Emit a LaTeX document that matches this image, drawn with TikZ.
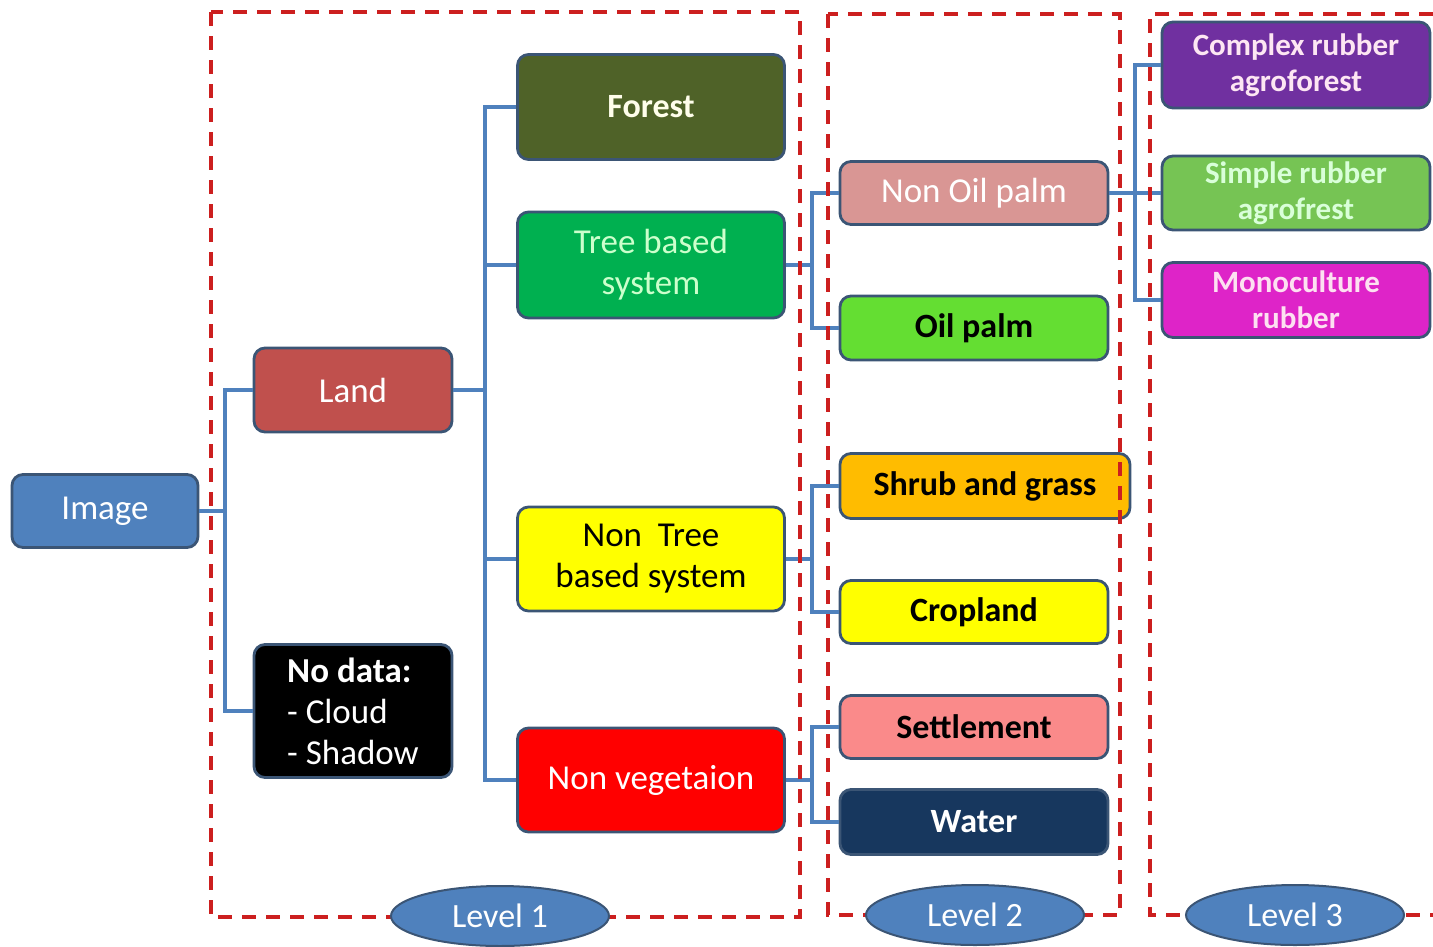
\documentclass[tikz,border=0pt]{standalone}
\usepackage{fontspec}
\setmainfont{Carlito}
\usetikzlibrary{shapes.geometric}

\definecolor{edgeslate}{RGB}{59,85,117}
\definecolor{linkblue}{RGB}{79,129,189}
\definecolor{framered}{RGB}{204,31,31}
\definecolor{imageblue}{RGB}{79,129,189}
\definecolor{landred}{RGB}{192,80,77}
\definecolor{forestolive}{RGB}{79,98,40}
\definecolor{treegreen}{RGB}{0,176,80}
\definecolor{yellowfill}{RGB}{255,255,0}
\definecolor{vegred}{RGB}{255,0,0}
\definecolor{nonoilpink}{RGB}{217,150,148}
\definecolor{oilgreen}{RGB}{100,222,50}
\definecolor{shruborange}{RGB}{255,188,0}
\definecolor{settlesalmon}{RGB}{250,138,138}
\definecolor{waternavy}{RGB}{23,55,94}
\definecolor{complexpurple}{RGB}{112,48,160}
\definecolor{simplegreen}{RGB}{118,196,84}
\definecolor{monomagenta}{RGB}{222,36,200}

\tikzset{
  box/.style={draw=edgeslate, line width=2.8pt, rounded corners=11pt,
    minimum width=267pt, inner sep=0pt, align=center,
    font=\fontsize{35}{41}\selectfont},
  boldbox/.style={box, font=\fontsize{34}{41}\selectfont\bfseries},
  smallbox/.style={box, font=\fontsize{31}{36}\selectfont\bfseries},
  link/.style={draw=linkblue, line width=4pt},
  frame/.style={draw=framered, line width=4pt, dash pattern=on 14pt off 10pt},
  lvl/.style={ellipse, draw=edgeslate, line width=2pt, fill=imageblue,
    minimum width=218pt, minimum height=60pt, inner sep=0pt,
    text=white, font=\fontsize{34}{38}\selectfont}
}

\begin{document}
\begin{tikzpicture}[x=1pt,y=-1pt]
\useasboundingbox (0,0) rectangle (1433,946);

% root and first split
\node[box, fill=imageblue, text=white, minimum width=186pt, minimum height=73pt] (image) at (105,511) {Image};
\node[box, fill=landred, text=white, minimum width=198pt, minimum height=84pt] (land) at (353,390) {Land};
\node[box, fill=black, text=white, minimum width=198pt, minimum height=133pt, align=left] (nodata) at (353,711) {\textbf{No data:}\\- Cloud\\- Shadow};

% level 1 classes
\node[boldbox, fill=forestolive, text=white!92!yellow, minimum height=105pt] (forest) at (651,107) {Forest};
\node[box, fill=treegreen, text=white!80!green, minimum height=106pt] (tree) at (651,265) {Tree based\\system};
\node[box, fill=yellowfill, text=black, minimum height=104pt] (nontree) at (651,559) {Non\ \ Tree\\based system};
\node[box, fill=vegred, text=white, minimum height=104pt] (nonveg) at (651,780) {Non vegetaion};

% level 2 classes
\node[box, fill=nonoilpink, text=white, minimum width=268pt, minimum height=63pt] (nonoil) at (974,193) {Non Oil palm};
\node[boldbox, fill=oilgreen, text=black, minimum width=268pt, minimum height=64pt] (oil) at (974,328) {Oil palm};
\node[boldbox, fill=shruborange, text=black, minimum width=290pt, minimum height=65pt] (shrub) at (985,486) {Shrub and grass};
\node[boldbox, fill=yellowfill, text=black, minimum width=268pt, minimum height=63pt] (crop) at (974,612) {Cropland};
\node[boldbox, fill=settlesalmon, text=black, minimum width=268pt, minimum height=63pt] (settle) at (974,727) {Settlement};
\node[boldbox, fill=waternavy, text=white, minimum width=268pt, minimum height=65pt] (water) at (974,822) {Water};

% level 3 classes
\node[smallbox, fill=complexpurple, text=white!90!magenta, minimum width=268pt, minimum height=86pt] (complex) at (1296,65) {Complex rubber\\agroforest};
\node[smallbox, fill=simplegreen, text=white!85!green, minimum width=268pt, minimum height=74pt] (simple) at (1296,193) {Simple rubber\\agrofrest};
\node[smallbox, fill=monomagenta, text=white!88!magenta, minimum width=268pt, minimum height=75pt] (mono) at (1296,300) {Monoculture\\rubber};

% branch points
\coordinate (b1) at (225,511);
\coordinate (b2) at (485,390);
\coordinate (b3) at (812,265);
\coordinate (b4) at (812,559);
\coordinate (b5) at (812,780);
\coordinate (b6) at (1135,193);

% connectors
\draw[link] (image.east) -- (b1);
\draw[link] (land.west) -| (b1) |- (nodata.west);
\draw[link] (land.east) -- (b2);
\draw[link] (forest.west) -| (b2) |- (nonveg.west);
\draw[link] (tree.west) -| (b2);
\draw[link] (nontree.west) -| (b2);
\draw[link] (tree.east) -- (b3);
\draw[link] (nonoil.west) -| (b3) |- (oil.west);
\draw[link] (nontree.east) -- (b4);
\draw[link] (shrub.west) -| (b4) |- (crop.west);
\draw[link] (nonveg.east) -- (b5);
\draw[link] (settle.west) -| (b5) |- (water.west);
\draw[link] (nonoil.east) -- (b6);
\draw[link] (complex.west) -| (b6) |- (mono.west);
\draw[link] (simple.west) -- (b6);

% level frames
\draw[frame] (211,12) rectangle (800,917);
\draw[frame] (828,14) rectangle (1120,915);
\draw[frame] (1433,14) -- (1150,14) -- (1150,915) -- (1433,915);

% level labels
\node[lvl] (lvl1) at (500,916) {Level 1};
\node[lvl] (lvl2) at (975,915) {Level 2};
\node[lvl] (lvl3) at (1295,915) {Level 3};
\end{tikzpicture}
\end{document}
